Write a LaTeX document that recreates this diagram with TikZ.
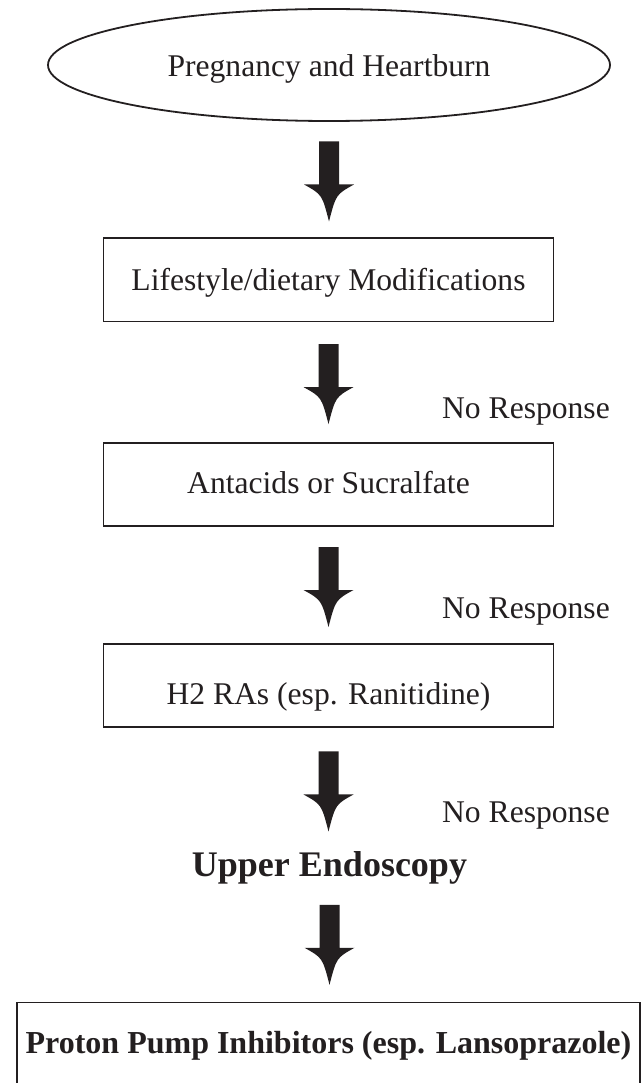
\documentclass[tikz,border=0pt]{standalone}
\usepackage{fontspec}
\setmainfont{Liberation Serif}
\usetikzlibrary{calc,shapes.geometric}
\definecolor{ink}{HTML}{231F20}
\tikzset{
  txt/.style={font=\fontsize{31.6}{36}\selectfont, text=ink, inner sep=0pt},
  ovalbox/.style={txt, ellipse, draw=ink, line width=1.8pt, minimum width=562pt, minimum height=112pt, text height=24pt, text depth=0pt},
  stepbox/.style={txt, rectangle, draw=ink, line width=1.8pt, minimum width=450pt, minimum height=83.5pt, text depth=0pt},
  endbox/.style={rectangle, draw=ink, line width=1.8pt, inner sep=0pt, text=ink, font=\fontsize{32}{36}\selectfont\bfseries},
  arrowfill/.style={fill=ink},
  noresp/.style={txt, anchor=base east}
}
\newcommand\flowarrow[2]{%
  \path[arrowfill] let \p1=(#1.south), \p2=(#2.north),
    \p3=($(\p1)!0.5!(\p2)+(0,-2pt)$) in
    (\x1-10pt,\y3+40pt) -- (\x1+10pt,\y3+40pt) -- (\x1+10pt,\y3-3pt) -- (\x1+25pt,\y3-3pt)
    .. controls (\x1+7pt,\y3-13pt) .. (\x1,\y3-40pt)
    .. controls (\x1-7pt,\y3-13pt) .. (\x1-25pt,\y3-3pt) -- (\x1-10pt,\y3-3pt) -- cycle;}
\begin{document}
\begin{tikzpicture}[x=1pt,y=-1pt]
\useasboundingbox (0,0) rectangle (642,1083);
\clip (0,0) rectangle (642,1083);
\node[ovalbox] (start) at (329,65) {Pregnancy and Heartburn};
\node[stepbox, text height=21pt] (life) at (328.5,279.7) {Lifestyle/dietary Modifications};
\node[stepbox, text height=17pt] (antac) at (328.5,484.5) {Antacids or Sucralfate};
\node[stepbox, text height=37pt] (htwo) at (328.5,685.5) {H2 RAs (esp. Ranitidine)};
\node[txt, anchor=base, font=\fontsize{36}{40}\selectfont\bfseries] (endo) at (329.5,876) {Upper Endoscopy};
\node[endbox, minimum width=623pt, minimum height=120pt, text height=0pt, text depth=19pt] (ppi) at (328.5,1062.5) {Proton Pump Inhibitors (esp. Lansoprazole)};
\node[noresp] (nr1) at (610,418) {No Response};
\node[noresp] (nr2) at (610,618) {No Response};
\node[noresp] (nr3) at (610,822) {No Response};
\flowarrow{start}{life}
\flowarrow{life}{antac}
\flowarrow{antac}{htwo}
\flowarrow{htwo}{endo}
\flowarrow{endo}{ppi}
\end{tikzpicture}
\end{document}
